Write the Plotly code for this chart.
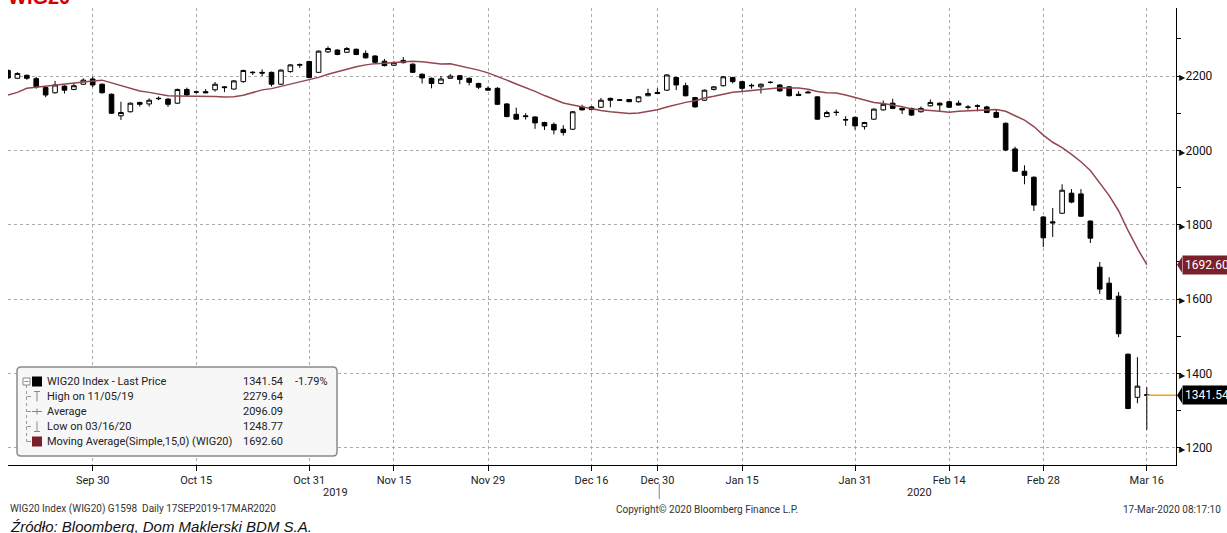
import pandas as pd
import plotly.graph_objects as go

# ---------------- data ----------------
holidays = ["2019-11-01", "2019-11-11", "2019-12-24", "2019-12-25", "2019-12-26",
            "2019-12-31", "2020-01-01", "2020-01-06"]
dates = [d for d in pd.bdate_range("2019-09-17", "2020-03-16") if d.strftime("%Y-%m-%d") not in holidays]

opens = [2215, 2194, 2202, 2193, 2169, 2155, 2173, 2164, 2178, 2192,
         2178, 2151, 2093, 2104, 2129, 2125, 2139, 2138, 2127, 2164,
         2157, 2158, 2163, 2171, 2165, 2185, 2209, 2210, 2210, 2178,
         2212, 2229, 2239, 2210, 2265, 2270, 2264, 2272, 2261, 2254,
         2240, 2229, 2242, 2232, 2205, 2194, 2180, 2194, 2201, 2194,
         2180, 2167, 2167, 2125, 2097, 2093, 2090, 2075, 2070, 2057,
         2057, 2117, 2117, 2116, 2140, 2136, 2137, 2131, 2147, 2156,
         2162, 2196, 2174, 2142, 2135, 2164, 2174, 2196, 2185, 2175,
         2171, 2183, 2176, 2171, 2151, 2157, 2144, 2091, 2103, 2083,
         2089, 2064, 2084, 2109, 2127, 2113, 2113, 2104, 2120, 2127,
         2131, 2127, 2117, 2120, 2117, 2102, 2073, 2004, 1944, 1928,
         1821, 1808, 1831, 1885, 1883, 1810, 1686, 1643, 1608, 1452,
         1336, 1343]
highs = [2218, 2210, 2204, 2198, 2172, 2187, 2175, 2180, 2194, 2198,
         2180, 2153, 2131, 2129, 2131, 2140, 2145, 2140, 2166, 2169,
         2161, 2165, 2184, 2173, 2189, 2217, 2213, 2218, 2212, 2218,
         2232, 2234, 2241, 2269, 2279.64, 2272, 2278, 2274, 2269, 2256,
         2246, 2240, 2251, 2234, 2207, 2196, 2200, 2205, 2203, 2196,
         2182, 2172, 2170, 2127, 2115, 2100, 2092, 2077, 2075, 2068,
         2106, 2123, 2119, 2141, 2142, 2138, 2138, 2146, 2166, 2167,
         2205, 2198, 2182, 2144, 2164, 2173, 2200, 2198, 2187, 2180,
         2180, 2186, 2178, 2173, 2159, 2161, 2146, 2107, 2110, 2092,
         2091, 2077, 2113, 2134, 2139, 2115, 2115, 2118, 2137, 2129,
         2133, 2134, 2122, 2124, 2120, 2109, 2075, 2010, 1960, 1930,
         1823, 1845, 1909, 1896, 1896, 1812, 1700, 1659, 1619, 1454,
         1444, 1363]
lows = [2192, 2192, 2190, 2166, 2143, 2153, 2153, 2162, 2176, 2170,
        2153, 2098, 2082, 2102, 2118, 2118, 2135, 2117, 2125, 2147,
        2153, 2154, 2158, 2157, 2163, 2182, 2203, 2200, 2172, 2176,
        2209, 2222, 2194, 2208, 2262, 2256, 2262, 2256, 2247, 2235,
        2226, 2227, 2234, 2208, 2180, 2167, 2178, 2192, 2178, 2175,
        2165, 2160, 2122, 2089, 2082, 2083, 2058, 2055, 2043, 2040,
        2055, 2108, 2108, 2114, 2116, 2133, 2130, 2129, 2146, 2152,
        2160, 2162, 2145, 2115, 2133, 2161, 2172, 2180, 2160, 2166,
        2153, 2180, 2158, 2145, 2146, 2154, 2082, 2089, 2093, 2066,
        2056, 2056, 2082, 2107, 2111, 2098, 2093, 2102, 2118, 2105,
        2114, 2120, 2110, 2105, 2100, 2087, 1998, 1942, 1909, 1837,
        1740, 1767, 1829, 1858, 1821, 1751, 1614, 1598, 1498, 1304,
        1320, 1248.77]
closes = [2195, 2207, 2194, 2171, 2149, 2176, 2162, 2174, 2189, 2176,
          2155, 2100, 2102, 2127, 2124, 2135, 2140, 2124, 2164, 2149,
          2157, 2155, 2178, 2169, 2187, 2215, 2210, 2208, 2178, 2216,
          2230, 2231, 2196, 2267, 2274, 2258, 2274, 2258, 2249, 2237,
          2228, 2236, 2236, 2210, 2195, 2180, 2192, 2200, 2191, 2183,
          2170, 2162, 2124, 2091, 2084, 2091, 2074, 2066, 2055, 2048,
          2104, 2109, 2110, 2135, 2135, 2135, 2131, 2144, 2153, 2153,
          2203, 2176, 2147, 2117, 2162, 2171, 2198, 2185, 2167, 2174,
          2178, 2183, 2160, 2147, 2148, 2155, 2084, 2102, 2102, 2082,
          2066, 2075, 2111, 2124, 2113, 2109, 2095, 2113, 2129, 2122,
          2116, 2122, 2116, 2119, 2102, 2089, 2001, 1944, 1933, 1853,
          1765, 1805, 1893, 1861, 1823, 1764, 1627, 1600, 1507, 1306,
          1366, 1341.54]
# moving average values for the first 14 sessions (earlier closes are off-chart)
ma_head = [2149, 2156, 2167, 2170, 2171, 2176, 2178, 2181, 2184, 2187,
           2189, 2182, 2174, 2167]

x_labels = ["2019-09-30", "2019-10-15", "2019-10-31", "2019-11-15", "2019-11-29",
            "2019-12-16", "2019-12-30", "2020-01-15", "2020-01-31", "2020-02-14",
            "2020-02-28", "2020-03-16"]
y_ticks = [1200, 1400, 1600, 1800, 2000, 2200]

legend_rows = [
    ("WIG20 Index - Last Price", "1341.54", "-1.79%"),
    ("High on 11/05/19", "2279.64", ""),
    ("Average", "2096.09", ""),
    ("Low on 03/16/20", "1248.77", ""),
    ("Moving Average(Simple,15,0) (WIG20)", "1692.60", ""),
]

# ---------------- derived ----------------
idx = list(range(len(dates)))
roll = pd.Series(closes).rolling(15).mean().tolist()
ma = ma_head + roll[len(ma_head):]

date_str = [d.strftime("%Y-%m-%d") for d in dates]
tick_idx = [date_str.index(s) for s in x_labels]
tick_txt = [pd.Timestamp(s).strftime("%b %d").replace(" 0", " ") for s in x_labels]
year_break = next(i for i, d in enumerate(dates) if d.year == 2020) - 0.5

FONT = "Roboto, Liberation Sans, sans-serif"
W, H = 1227, 533
L, R, T, B = 8, 51, 8, 68
PW, PH = W - L - R, H - T - B
XMAX = 124.1
YMIN, YMAX = 1154, 2383


def px(xp):
    return (xp - L) / PW


def py(yp):
    return (H - B - yp) / PH


fig = go.Figure()
fig.add_trace(go.Candlestick(
    x=idx, open=opens, high=highs, low=lows, close=closes,
    increasing=dict(line=dict(color="black", width=1), fillcolor="white"),
    decreasing=dict(line=dict(color="black", width=1), fillcolor="black"),
    whiskerwidth=0, hoverinfo="skip", showlegend=False))
fig.add_trace(go.Scatter(x=idx, y=ma, mode="lines",
                         line=dict(color="#934650", width=1.5),
                         hoverinfo="skip", showlegend=False))

shapes = []
# last price line
shapes.append(dict(type="line", xref="x", yref="y", x0=idx[-1], x1=XMAX,
                   y0=closes[-1], y1=closes[-1], line=dict(color="#F5A21B", width=1.5)))
# year separator (below the tick labels)
shapes.append(dict(type="line", xref="x", yref="paper", x0=year_break - 0.3, x1=year_break - 0.3,
                   y0=py(484), y1=py(499), line=dict(color="#888888", width=1)))

# price tags
ann = []
for val, txt, col in [(ma[-1], legend_rows[4][1], "#7A1F2B"), (closes[-1], legend_rows[0][1], "#000000")]:
    dy = 8 / (PH / (YMAX - YMIN))
    shapes.append(dict(type="path", xref="paper", yref="y",
                       path=f"M {px(1177)},{val} L {px(1182)},{val + dy} L {px(1182)},{val - dy} Z",
                       fillcolor=col, line=dict(width=0)))
    ann.append(dict(x=px(1182), y=val, xref="paper", yref="y", xanchor="left", yanchor="middle",
                    text=txt, showarrow=False, bgcolor=col, borderpad=2,
                    font=dict(family=FONT, size=12, color="white")))


# legend box
def rrect(x0, y0, x1, y1, r):
    rx, ry = r / PW, r / PH
    X0, X1, Y0, Y1 = px(x0), px(x1), py(y1), py(y0)
    return (f"M {X0 + rx},{Y0} L {X1 - rx},{Y0} Q {X1},{Y0} {X1},{Y0 + ry} "
            f"L {X1},{Y1 - ry} Q {X1},{Y1} {X1 - rx},{Y1} L {X0 + rx},{Y1} "
            f"Q {X0},{Y1} {X0},{Y1 - ry} L {X0},{Y0 + ry} Q {X0},{Y0} {X0 + rx},{Y0} Z")


shapes.append(dict(type="path", xref="paper", yref="paper", path=rrect(17, 367, 337, 456, 4),
                   fillcolor="#F7F7F7", line=dict(color="#8A8A8A", width=1.5)))
row_y = [381.5, 396.5, 411.5, 426.5, 441.5]
# tree lines
shapes.append(dict(type="line", xref="paper", yref="paper", x0=px(26.5), x1=px(26.5),
                   y0=py(385), y1=py(441.5), line=dict(color="#999999", width=1, dash="dot")))
for yy in row_y[1:]:
    shapes.append(dict(type="line", xref="paper", yref="paper", x0=px(26.5), x1=px(31),
                       y0=py(yy), y1=py(yy), line=dict(color="#999999", width=1)))
# collapse box
shapes.append(dict(type="rect", xref="paper", yref="paper", x0=px(23), x1=px(30),
                   y0=py(385), y1=py(378), line=dict(color="#888888", width=1), fillcolor="white"))
shapes.append(dict(type="line", xref="paper", yref="paper", x0=px(24.5), x1=px(28.5),
                   y0=py(381.5), y1=py(381.5), line=dict(color="#888888", width=1)))
# colour squares
for yy, col in [(row_y[0], "black"), (row_y[4], "#7A1F2B")]:
    shapes.append(dict(type="rect", xref="paper", yref="paper", x0=px(32), x1=px(42),
                       y0=py(yy + 5), y1=py(yy - 5), line=dict(width=0), fillcolor=col))
# glyphs: high (T), average (-+-), low (inverted T)
g = "#888888"
yy = row_y[1]
shapes += [dict(type="line", xref="paper", yref="paper", x0=px(34), x1=px(40), y0=py(yy - 5), y1=py(yy - 5), line=dict(color=g, width=1)),
           dict(type="line", xref="paper", yref="paper", x0=px(37), x1=px(37), y0=py(yy - 5), y1=py(yy + 5), line=dict(color=g, width=1))]
yy = row_y[2]
shapes += [dict(type="line", xref="paper", yref="paper", x0=px(32), x1=px(42), y0=py(yy), y1=py(yy), line=dict(color=g, width=1)),
           dict(type="line", xref="paper", yref="paper", x0=px(37), x1=px(37), y0=py(yy - 3), y1=py(yy + 3), line=dict(color=g, width=1))]
yy = row_y[3]
shapes += [dict(type="line", xref="paper", yref="paper", x0=px(34), x1=px(40), y0=py(yy + 5), y1=py(yy + 5), line=dict(color=g, width=1)),
           dict(type="line", xref="paper", yref="paper", x0=px(37), x1=px(37), y0=py(yy - 5), y1=py(yy + 5), line=dict(color=g, width=1))]

LF = dict(family=FONT, size=11, color="#222222")
for (lab, val, chg), yy in zip(legend_rows, row_y):
    ann.append(dict(x=px(45), y=py(yy), xref="paper", yref="paper", xanchor="left", yanchor="middle",
                    text=lab, showarrow=False, font=LF))
    ann.append(dict(x=px(285), y=py(yy), xref="paper", yref="paper", xanchor="right", yanchor="middle",
                    text=val, showarrow=False, font=LF))
    if chg:
        ann.append(dict(x=px(293), y=py(yy), xref="paper", yref="paper", xanchor="left", yanchor="middle",
                        text=chg, showarrow=False, font=LF))

# year labels
for yr, a, b in [("2019", 0, year_break), ("2020", year_break, XMAX)]:
    ann.append(dict(x=(a + b) / 2, y=py(492), xref="x", yref="paper", xanchor="center", yanchor="middle",
                    text=yr, showarrow=False, font=dict(family=FONT, size=11, color="#222222")))

# title (cut off at the top)
ann.append(dict(x=px(6), y=py(10), xref="paper", yref="paper", xanchor="left", yanchor="bottom",
                text="<b>WIG20</b>", showarrow=False, font=dict(family="Liberation Sans, Arial, sans-serif", size=20, color="#D00000")))
# footer
foot_font = dict(family=FONT, size=10, color="#333333")
ann.append(dict(x=px(8), y=py(509), xref="paper", yref="paper", xanchor="left", yanchor="middle",
                text="WIG20 Index (WIG20) G1598  Daily 17SEP2019-17MAR2020", showarrow=False, font=foot_font))
ann.append(dict(x=px(707), y=py(509), xref="paper", yref="paper", xanchor="center", yanchor="middle",
                text="Copyright© 2020 Bloomberg Finance L.P.", showarrow=False, font=foot_font))
ann.append(dict(x=px(1223), y=py(509), xref="paper", yref="paper", xanchor="right", yanchor="middle",
                text="17-Mar-2020 08:17:10", showarrow=False, font=foot_font))
ann.append(dict(x=px(8), y=py(526), xref="paper", yref="paper", xanchor="left", yanchor="middle",
                text="<i>Źródło: Bloomberg, Dom Maklerski BDM S.A.</i>", showarrow=False,
                font=dict(family="Liberation Sans, Arial, sans-serif", size=15, color="#111111")))

fig.update_layout(
    width=W, height=H, margin=dict(l=L, r=R, t=T, b=B),
    paper_bgcolor="white", plot_bgcolor="white",
    shapes=shapes, annotations=ann, showlegend=False, hovermode=False,
    xaxis=dict(range=[0, XMAX], rangeslider=dict(visible=False), tickvals=tick_idx, ticktext=tick_txt,
               showgrid=True, gridcolor="#ABABAB", griddash="dot", gridwidth=1,
               showline=True, linecolor="black", linewidth=1, ticks="outside", ticklen=5,
               tickcolor="black", zeroline=False, tickfont=dict(family=FONT, size=11, color="#222222")),
    yaxis=dict(range=[YMIN, YMAX], side="right", tickvals=y_ticks,
               ticktext=[f"<span style='font-size:8px'>▶</span>{v}" for v in y_ticks],
               showgrid=True, gridcolor="#ABABAB", griddash="dot", gridwidth=1,
               showline=True, linecolor="black", linewidth=1, ticks="", zeroline=False,
               minor=dict(dtick=100, tick0=1100, ticks="outside", ticklen=4, tickcolor="black", showgrid=False),
               tickfont=dict(family=FONT, size=12, color="#111111")),
)
fig.write_html("out.html", config={"displayModeBar": False},
               post_script="document.body.style.margin='0px';document.body.style.overflow='hidden';")
